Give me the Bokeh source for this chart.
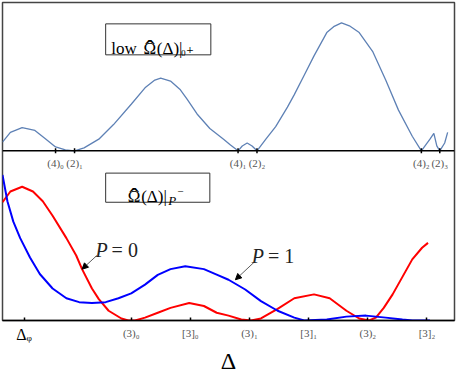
import numpy as np
from bokeh.plotting import figure
from bokeh.models import (Range1d, FixedTicker, Span, Label, Arrow, NormalHead,
                          LinearAxis, Title, BoxAnnotation)
from bokeh.core.properties import value
from bokeh.embed import file_html
from bokeh.resources import INLINE

# ---- data ----
# upper panel: low Omega-hat(Delta)|0+
top_delta = [0.824, 0.957, 1.156, 1.372, 1.538, 1.721, 1.887, 2.042, 2.203, 2.452,
             2.701, 3.000, 3.233, 3.399, 3.498, 3.664, 3.831, 3.947, 4.113, 4.329,
             4.561, 4.678, 4.806, 4.877, 4.960, 5.043, 5.126, 5.276, 5.442, 5.641,
             5.757, 5.924, 6.090, 6.306, 6.422, 6.555, 6.688, 6.854, 7.086, 7.302,
             7.518, 7.751, 7.905, 8.050, 8.116, 8.166, 8.216, 8.299, 8.349]
top_omega = [0.068, 0.144, 0.182, 0.159, 0.098, 0.030, 0.008, 0.000, 0.023, 0.091,
             0.205, 0.364, 0.492, 0.553, 0.568, 0.545, 0.477, 0.402, 0.288, 0.174,
             0.091, 0.045, 0.000, 0.038, 0.061, 0.038, 0.000, 0.091, 0.189, 0.341,
             0.439, 0.591, 0.742, 0.924, 0.970, 1.000, 0.977, 0.924, 0.773, 0.553,
             0.318, 0.114, 0.000, 0.091, 0.136, 0.038, 0.000, 0.061, 0.144]

# lower panel: P = 0 (red)
p0_delta = [0.824, 0.957, 1.156, 1.339, 1.505, 1.671, 1.904, 2.070, 2.169, 2.336,
            2.452, 2.618, 2.834, 2.950, 3.066, 3.233, 3.449, 3.664, 3.980, 4.229,
            4.445, 4.645, 4.860, 5.027, 5.193, 5.475, 5.757, 6.090, 6.355, 6.638,
            6.854, 7.020, 7.136, 7.269, 7.419, 7.585, 7.751, 7.917, 8.017]
p0_omega = [0.824, 0.899, 0.932, 0.899, 0.831, 0.730, 0.574, 0.453, 0.358, 0.223,
            0.149, 0.068, 0.014, 0.000, 0.000, 0.020, 0.054, 0.088, 0.122, 0.101,
            0.054, 0.034, 0.007, 0.000, 0.014, 0.081, 0.155, 0.182, 0.155, 0.068,
            0.014, 0.000, 0.020, 0.088, 0.182, 0.304, 0.426, 0.507, 0.541]

# lower panel: P = 1 (blue)
p1_delta = [0.824, 0.907, 1.007, 1.123, 1.289, 1.455, 1.671, 1.904, 2.120, 2.336,
            2.568, 2.784, 3.000, 3.233, 3.449, 3.664, 3.914, 4.229, 4.445, 4.645,
            4.927, 5.193, 5.475, 5.757, 5.924, 6.306, 6.638, 6.970, 7.302, 7.585,
            7.751, 8.050]
p1_omega = [1.014, 0.831, 0.689, 0.574, 0.439, 0.324, 0.223, 0.155, 0.128, 0.122,
            0.128, 0.155, 0.189, 0.250, 0.318, 0.358, 0.378, 0.358, 0.320, 0.284,
            0.216, 0.135, 0.068, 0.020, 0.000, 0.007, 0.027, 0.034, 0.020, 0.007,
            0.000, 0.000]

top_ticks = [1.721, 2.042, 4.806, 5.126, 7.905, 8.216]
top_tick_labels = ["(4)₀", "(2)₁", "(4)₁", "(2)₂", "(4)₂", "(2)₃"]

delta_phi = 1.189
delta_phi_label = "Δᵩ"
bottom_ticks = [3, 4, 5, 6, 7, 8]
bottom_tick_labels = ["(3)₀", "[3]₀", "(3)₁", "[3]₁", "(3)₂", "[3]₂"]

SERIF = "'Liberation Serif', 'DejaVu Serif', serif"

# ---- figure ----
p = figure(width=456, height=373, output_backend="svg", toolbar_location=None,
           x_range=Range1d(0.824, 8.465), y_range=Range1d(0, 2.216),
           y_axis_location=None,
           min_border_left=2, min_border_right=2, min_border_top=2, min_border_bottom=40)
p.extra_y_ranges = {"top": Range1d(-1.326, 1.159)}
p.grid.visible = False
p.outline_line_color = "#444444"
p.outline_line_width = 1.5
p.background_fill_color = "white"
p.border_fill_color = "white"

ax = p.xaxis[0]
ax.ticker = FixedTicker(ticks=[delta_phi] + bottom_ticks)
overrides = {delta_phi: ""}
for t, lab in zip(bottom_ticks, bottom_tick_labels):
    overrides[t] = lab
ax.major_label_overrides = overrides
ax.major_label_text_font = SERIF
ax.major_label_text_font_size = "11px"
ax.major_label_text_color = "#555555"
ax.major_label_standoff = 6
ax.axis_label_standoff = 0
ax.major_tick_in = 3
ax.major_tick_out = 0
ax.major_tick_line_width = 1.5
ax.minor_tick_in = 0
ax.minor_tick_out = 0
ax.axis_line_width = 1.5
ax.axis_line_color = "black"

# second axis carrying only the (black, larger) Delta_phi label, pulled up into the same row
ax2 = LinearAxis(ticker=FixedTicker(ticks=[delta_phi]),
                 major_label_overrides={delta_phi: delta_phi_label},
                 major_label_text_font=SERIF, major_label_text_font_size="16px",
                 major_label_text_color="black", major_label_standoff=-16,
                 axis_label_standoff=0,
                 axis_line_color=None, major_tick_line_color=None,
                 minor_tick_line_color=None, major_tick_in=0, major_tick_out=0)
p.add_layout(ax2, "below")

# axis title
p.add_layout(Title(text="Δ", align="center", text_font=SERIF,
                   text_font_size="24px", text_font_style="normal", text_color="black",
                   standoff=0, offset=0),
             "below")

# upper panel
p.add_layout(Span(location=0, dimension="width", y_range_name="top",
                  line_color="black", line_width=1.5))
p.line(top_delta, top_omega, y_range_name="top", line_color="#5E81B5", line_width=1.3)
p.scatter(top_ticks, [0] * len(top_ticks), y_range_name="top", marker="dash",
          angle=np.pi / 2, size=5, line_color="black", line_width=1.5)
p.text(x=top_ticks, y=[0] * len(top_ticks), text=top_tick_labels, y_range_name="top",
       text_align="center", text_baseline="top", y_offset=6,
       text_font=value(SERIF), text_font_size="11px", text_color="#555555")

# lower panel
p.line(p0_delta, p0_omega, line_color="#FF0000", line_width=2)
p.line(p1_delta, p1_omega, line_color="#0000FF", line_width=2)

# ---- boxed titles ----
def lab(x, y, text, size, align="left", dx=0, dy=0, style="normal", rng="default"):
    p.add_layout(Label(x=x, y=y, text=text, y_range_name=rng, x_offset=dx, y_offset=dy,
                       text_align=align, text_baseline="alphabetic",
                       text_font=SERIF, text_font_size=size, text_font_style=style,
                       text_color="black"))

# box 1: low Ω̂(Δ)|0+
p.add_layout(BoxAnnotation(left=2.568, right=4.346, bottom=0.750, top=0.992,
                           y_range_name="top", fill_color="white", fill_alpha=1,
                           line_color="#333333", line_alpha=1, line_width=1,
                           level="annotation"))
om1_x, om1_y = 3.315, 0.803
lab(om1_x, om1_y, "low", "17px", "right", dx=-13, rng="top")
lab(om1_x, om1_y, "Ω", "17px", "center", rng="top")
lab(om1_x, om1_y, "ˆ", "28px", "center", dy=-1, rng="top")
lab(om1_x, om1_y, "(Δ)|", "17px", "left", dx=7, rng="top")
lab(om1_x, om1_y, "₀₊", "15px", "left", dx=31, rng="top")

# box 2: Ω̂(Δ)|P−
p.add_layout(BoxAnnotation(left=2.568, right=4.329, bottom=0.824, top=1.027,
                           fill_color="white", fill_alpha=1,
                           line_color="#333333", line_alpha=1, line_width=1,
                           level="annotation"))
om2_x, om2_y = 3.050, 0.865
lab(om2_x, om2_y, "Ω", "17px", "center")
lab(om2_x, om2_y, "ˆ", "28px", "center", dy=-1)
lab(om2_x, om2_y, "(Δ)|", "17px", "left", dx=7)
lab(om2_x, om2_y, "P", "13px", "left", dx=34, dy=-4, style="italic")
lab(om2_x, om2_y, "−", "11px", "left", dx=43, dy=5)

# P = 0 / P = 1 annotations
for xs, ys, val in [(2.601, 0.493, "0"), (5.243, 0.446, "1")]:
    p.add_layout(Label(x=xs, y=ys, text="P", text_align="right", text_baseline="alphabetic",
                       text_font=SERIF, text_font_size="20px", text_font_style="italic",
                       text_color="#222222"))
    p.add_layout(Label(x=xs, y=ys, text="= " + val, x_offset=4, text_align="left",
                       text_baseline="alphabetic",
                       text_font=SERIF, text_font_size="20px", text_color="#222222"))

p.add_layout(Arrow(x_start=2.419, y_start=0.453, x_end=2.169, y_end=0.358,
                   line_color="#333333", line_width=0.8,
                   end=NormalHead(size=6, fill_color="black", line_color="black")))
p.add_layout(Arrow(x_start=5.093, y_start=0.412, x_end=4.761, y_end=0.284,
                   line_color="#333333", line_width=0.8,
                   end=NormalHead(size=6, fill_color="black", line_color="black")))

open("out.html", "w").write(file_html(p, INLINE))
